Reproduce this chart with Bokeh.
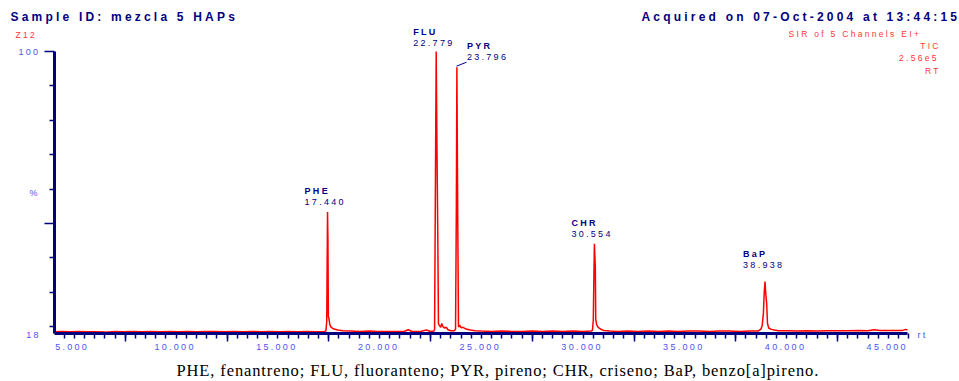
from bokeh.plotting import figure
from bokeh.models import Range1d, LinearAxis, FixedTicker, Label
from bokeh.layouts import column
from bokeh.embed import file_html
from bokeh.resources import INLINE

# ---------------------------------------------------------------- data
# Total ion chromatogram: retention time (min) and relative intensity (%)
rt = [
    4.05, 4.40, 4.80, 5.20, 5.60, 6.00, 6.50, 7.00, 7.40, 7.90, 8.30, 8.80,
    9.20, 9.70, 10.10, 10.60, 11.00, 11.50, 11.90, 12.40, 12.80, 13.30, 13.70,
    14.20, 14.60, 15.10, 15.50, 16.00, 16.40, 16.90, 17.30,
    17.36, 17.40, 17.42, 17.44, 17.46, 17.48, 17.51, 17.55, 17.62, 17.75, 17.95, 18.20,
    18.60, 19.00, 19.50, 19.90, 20.40, 20.80, 21.20, 21.40, 21.60, 22.00, 22.30, 22.50, 22.66,
    22.70, 22.74, 22.779, 22.82, 22.86, 22.89, 22.94, 23.00, 23.05, 23.12, 23.20, 23.28,
    23.36, 23.50, 23.66,
    23.73, 23.77, 23.796, 23.82, 23.845, 23.875, 23.93, 24.00, 24.10, 24.25, 24.45, 24.70,
    25.00, 25.50, 26.00, 26.50, 27.00, 27.50, 28.00, 28.50, 29.00, 29.50, 30.00, 30.40,
    30.46, 30.50, 30.53, 30.554, 30.58, 30.60, 30.62, 30.67, 30.74, 30.85, 31.00, 31.30,
    31.70, 32.20, 32.70, 33.20, 33.70, 34.20, 34.70, 35.20, 35.70, 36.20, 36.70, 37.20,
    37.70, 38.20, 38.60,
    38.74, 38.80, 38.86, 38.90, 38.938, 38.97, 39.02, 39.06, 39.12, 39.25, 39.40, 39.60,
    40.00, 40.50, 41.00, 41.50, 42.00, 42.50, 43.00, 43.50, 44.00, 44.30, 44.60, 45.00,
    45.40, 45.70, 45.85, 45.94,
]
intensity = [
    18.5, 18.6, 18.5, 18.6, 18.5, 18.5, 18.4, 18.6, 18.5, 18.6, 18.5, 18.6,
    18.5, 18.6, 18.5, 18.6, 18.5, 18.6, 18.6, 18.5, 18.6, 18.5, 18.6,
    18.5, 18.6, 18.5, 18.6, 18.5, 18.6, 18.5, 18.6,
    18.8, 21.5, 38.0, 53.3, 45.0, 23.0, 22.3, 20.6, 19.8, 19.3, 19.0, 18.8,
    18.7, 18.6, 18.7, 18.6, 18.6, 18.6, 18.6, 19.1, 18.6, 18.6, 19.0, 18.6, 18.7,
    19.2, 60.0, 100.0, 70.0, 45.0, 20.8, 20.3, 19.8, 20.9, 19.9, 19.6, 19.8,
    19.1, 18.8, 18.8,
    19.2, 55.0, 95.4, 70.0, 45.0, 19.9, 20.4, 19.7, 19.8, 19.3, 19.0, 18.8,
    18.7, 18.6, 18.7, 18.6, 18.6, 18.7, 18.6, 18.7, 18.6, 18.7, 18.6, 18.7,
    19.0, 22.0, 35.0, 44.1, 40.0, 37.0, 22.0, 20.5, 19.8, 19.3, 18.9, 18.7,
    18.6, 18.7, 18.6, 18.7, 18.6, 18.7, 18.6, 18.7, 18.7, 18.6, 18.7, 18.7,
    18.6, 18.7, 18.7,
    19.3, 20.3, 24.0, 30.0, 33.1, 30.0, 26.6, 20.9, 19.6, 19.2, 19.0, 18.8,
    18.8, 18.7, 18.8, 18.7, 18.8, 18.8, 18.8, 18.9, 18.8, 19.1, 18.9, 18.9,
    18.9, 18.9, 19.2, 19.0,
]

# Identified peaks
peak_names = ["PHE", "FLU", "PYR", "CHR", "BaP"]
peak_rt = [17.440, 22.779, 23.796, 30.554, 38.938]
peak_height = [53.3, 100.0, 95.4, 44.1, 33.1]

# Axis ticks
x_label_values = [5, 10, 15, 20, 25, 30, 35, 40, 45]
x_label_texts = ["5.000", "10.000", "15.000", "20.000", "25.000",
                 "30.000", "35.000", "40.000", "45.000"]
x_long_marks = [7.5, 12.5, 17.5, 22.5, 27.5, 32.5, 37.5, 42.5]
x_short_marks = [4.5 + 0.5 * i for i in range(84)]
y_major_values = [50, 100]
y_minor_values = [20, 30, 40, 60, 70, 80, 90]

header_left = "Sample ID: mezcla 5 HAPs"
header_right = "Acquired on 07-Oct-2004 at 13:44:15"
caption = "PHE, fenantreno; FLU, fluoranteno; PYR, pireno; CHR, criseno; BaP, benzo[a]pireno."

# ---------------------------------------------------------------- style
NAVY = "#000080"
TICK_BLUE = "#5050f0"
RED_TXT = "#ff3636"
SANS = "Liberation Sans"
W = 959
HEAD_H, MAIN_H, CAP_H = 24, 333, 24

# plot area inside the main canvas (px) and the data span it shows
AREA_L, AREA_R, AREA_T, AREA_B = 54, 907, 27, 309
XLO, XHI = 4.022, 45.94
YLO, YHI = 18.0, 100.0
sx = (AREA_R - AREA_L) / (XHI - XLO)
sy = (AREA_B - AREA_T) / (YHI - YLO)
X0, X1 = XLO - AREA_L / sx, XHI + (W - AREA_R) / sx
# tracked tick labels are nudged left (px) so they sit centred under their values
LABEL_NUDGE = 8

# label offsets (px) from each peak apex: name, retention time
label_dx = [-23, -23, 10, -23, -22]
name_dy = [21, 20, 21, 21, 28]
num_dy = [10, 9, 10, 10, 17]


def strip(height, spacing):
    f = figure(width=W, height=height, x_range=Range1d(0, W), y_range=Range1d(height, 0),
               output_backend="svg", toolbar_location=None,
               x_axis_type=None, y_axis_type=None, min_border=0)
    f.outline_line_color = None
    f.xgrid.visible = False
    f.ygrid.visible = False
    f.styles = {"letter-spacing": spacing}
    return f


# ---------------------------------------------------------------- header strip
head = strip(HEAD_H, "3.2px")
for txt, x in ((header_left, 10), (header_right, 641)):
    head.add_layout(Label(x=x, y=16, text=txt, text_font=SANS, text_font_size="12px",
                          text_font_style="bold", text_color=NAVY,
                          text_baseline="middle", text_align="left"))

# ---------------------------------------------------------------- chromatogram
p = figure(width=W, height=MAIN_H,
           x_range=Range1d(X0, X1),
           y_range=Range1d(YLO - (MAIN_H - AREA_B) / sy, YHI + AREA_T / sy),
           output_backend="svg", toolbar_location=None,
           x_axis_type=None, y_axis_type=None, min_border=0)
p.outline_line_color = None
p.xgrid.visible = False
p.ygrid.visible = False
p.styles = {"letter-spacing": "2.3px"}
# page-pixel coordinates for the margin annotations, and the tick-label range
p.extra_x_ranges = {"px": Range1d(0, W),
                    "lab": Range1d(X0 + LABEL_NUDGE / sx, X1 + LABEL_NUDGE / sx)}
p.extra_y_ranges = {"px": Range1d(HEAD_H + MAIN_H, HEAD_H)}

p.line(rt, intensity, line_color="#ff0000", line_width=1.5)

# x axis: tick marks
ax_marks = LinearAxis(ticker=FixedTicker(ticks=x_long_marks, minor_ticks=x_short_marks),
                      fixed_location=YLO, bounds=(XLO, XHI))
ax_marks.axis_line_color = NAVY
ax_marks.axis_line_width = 3
ax_marks.major_tick_line_color = NAVY
ax_marks.major_tick_line_width = 1.5
ax_marks.major_tick_in = 0
ax_marks.major_tick_out = 8
ax_marks.minor_tick_line_color = NAVY
ax_marks.minor_tick_line_width = 1.5
ax_marks.minor_tick_in = 0
ax_marks.minor_tick_out = 5
ax_marks.major_label_overrides = {v: "" for v in x_long_marks}
ax_marks.major_label_text_font_size = "0px"
ax_marks.major_label_standoff = 0
p.add_layout(ax_marks, "below")

# x axis: numeric labels
ax_lab = LinearAxis(ticker=FixedTicker(ticks=x_label_values, minor_ticks=[]),
                    x_range_name="lab", fixed_location=YLO)
ax_lab.axis_line_color = None
ax_lab.major_tick_line_color = None
ax_lab.minor_tick_line_color = None
ax_lab.major_tick_in = 0
ax_lab.major_tick_out = 0
ax_lab.major_label_overrides = dict(zip(x_label_values, x_label_texts))
ax_lab.major_label_text_font = SANS
ax_lab.major_label_text_font_size = "9px"
ax_lab.major_label_text_color = TICK_BLUE
ax_lab.major_label_standoff = 10
p.add_layout(ax_lab, "below")

# y axis
ay = LinearAxis(ticker=FixedTicker(ticks=y_major_values, minor_ticks=y_minor_values),
                fixed_location=XLO, bounds=(YLO, YHI))
ay.axis_line_color = NAVY
ay.axis_line_width = 3
ay.major_tick_line_color = NAVY
ay.major_tick_line_width = 1.5
ay.major_tick_in = 0
ay.major_tick_out = 10
ay.minor_tick_line_color = NAVY
ay.minor_tick_line_width = 1.5
ay.minor_tick_in = 0
ay.minor_tick_out = 5
ay.major_label_overrides = {50: ""}
ay.major_label_text_font = SANS
ay.major_label_text_font_size = "9px"
ay.major_label_text_color = TICK_BLUE
ay.major_label_standoff = 11
p.add_layout(ay, "left")

# peak annotations
for i, name in enumerate(peak_names):
    p.add_layout(Label(x=peak_rt[i], y=peak_height[i], x_offset=label_dx[i], y_offset=name_dy[i],
                       text=name, text_font=SANS, text_font_size="9px", text_font_style="bold",
                       text_color=NAVY, text_baseline="middle", text_align="left"))
    p.add_layout(Label(x=peak_rt[i], y=peak_height[i], x_offset=label_dx[i], y_offset=num_dy[i],
                       text=f"{peak_rt[i]:.3f}", text_font=SANS, text_font_size="9px",
                       text_color=NAVY, text_baseline="middle", text_align="left"))
# leader from the PYR apex to its label
p.segment(x0=[456], y0=[65.7], x1=[466], y1=[61.7], line_color=NAVY, line_width=1,
          x_range_name="px", y_range_name="px")

# margin texts (page pixel coordinates)
margin = [
    ("Z12", 15, 34, "left", RED_TXT, "8.5px"),
    ("SIR of 5 Channels EI+", 788, 33, "left", RED_TXT, "8.5px"),
    ("TIC", 933.4, 45, "right", RED_TXT, "8.5px"),
    ("2.56e5", 924.5, 57, "right", RED_TXT, "8.5px"),
    ("RT", 935.7, 70, "right", RED_TXT, "8.5px"),
    ("%", 33, 192, "center", TICK_BLUE, "9px"),
    ("18", 35.7, 334, "right", TICK_BLUE, "9px"),
    ("rt", 917, 334, "left", TICK_BLUE, "9px"),
]
for txt, x, y, align, col, size in margin:
    p.add_layout(Label(x=x, y=y, x_range_name="px", y_range_name="px", text=txt,
                       text_font=SANS, text_font_size=size, text_color=col,
                       text_baseline="middle", text_align=align))

# ---------------------------------------------------------------- caption strip
cap = strip(CAP_H, "0.88px")
cap.add_layout(Label(x=176, y=13, text=caption, text_font="Liberation Serif",
                     text_font_size="16.5px", text_color="#000000",
                     text_baseline="middle", text_align="left"))

page = column(head, p, cap, spacing=0)
open("out.html", "w").write(file_html(page, INLINE))
